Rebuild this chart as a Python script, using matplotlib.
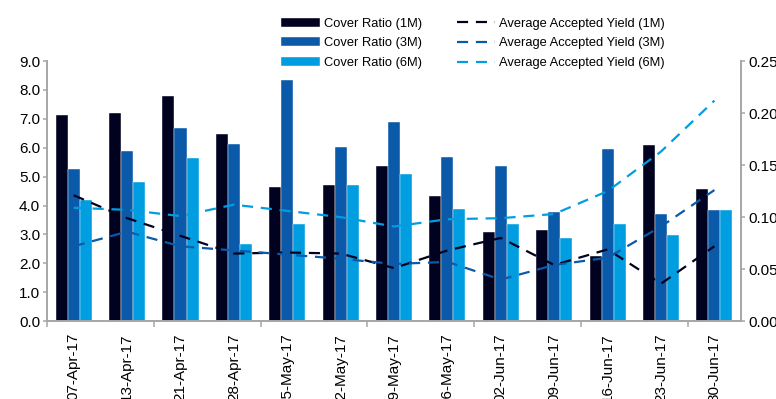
import numpy as np
import matplotlib
matplotlib.use("Agg")
import matplotlib.pyplot as plt

plt.rcParams['font.family'] = ['Liberation Sans', 'DejaVu Sans']

dates = ['07-Apr-17', '13-Apr-17', '21-Apr-17', '28-Apr-17', '05-May-17', '12-May-17',
         '19-May-17', '26-May-17', '02-Jun-17', '09-Jun-17', '16-Jun-17', '23-Jun-17',
         '30-Jun-17']

cover_1m = [7.15, 7.19, 7.79, 6.49, 4.63, 4.72, 5.38, 4.33, 3.07, 3.16, 2.25, 6.08, 4.59]
cover_3m = [5.28, 5.88, 6.68, 6.13, 8.34, 6.03, 6.88, 5.68, 5.38, 3.77, 5.94, 3.72, 3.84]
cover_6m = [4.18, 4.83, 5.64, 2.67, 3.37, 4.72, 5.08, 3.88, 3.37, 2.87, 3.37, 2.99, 3.84]

yield_1m = [0.121, 0.099, 0.082, 0.065, 0.066, 0.065, 0.051, 0.068, 0.080, 0.054, 0.069, 0.036, 0.072]
yield_3m = [0.072, 0.086, 0.072, 0.068, 0.064, 0.060, 0.055, 0.057, 0.040, 0.054, 0.061, 0.091, 0.126]
yield_6m = [0.109, 0.107, 0.101, 0.112, 0.106, 0.100, 0.091, 0.098, 0.099, 0.103, 0.125, 0.163, 0.212]

c1 = '#00021f'
c3 = '#0a5aa9'
c6 = '#009ee0'
grey = '#a6a6a6'

fig = plt.figure(figsize=(7.76, 3.99), dpi=100)
ax = fig.add_axes([0.0606, 0.195, 0.8944, 0.652])
ax2 = ax.twinx()

x = np.arange(len(dates))
w = 0.225
b1 = ax.bar(x - w, cover_1m, w, color=c1, edgecolor='white', linewidth=0.3, label='Cover Ratio (1M)')
b3 = ax.bar(x, cover_3m, w, color=c3, edgecolor='white', linewidth=0.3, label='Cover Ratio (3M)')
b6 = ax.bar(x + w, cover_6m, w, color=c6, edgecolor='white', linewidth=0.3, label='Cover Ratio (6M)')

dash = (5, 3.5)
l1, = ax2.plot(x, yield_1m, color=c1, lw=1.6, dashes=dash, label='Average Accepted Yield (1M)')
l3, = ax2.plot(x, yield_3m, color=c3, lw=1.6, dashes=dash, label='Average Accepted Yield (3M)')
l6, = ax2.plot(x, yield_6m, color=c6, lw=1.6, dashes=dash, label='Average Accepted Yield (6M)')

ax.set_xlim(-0.5, len(dates) - 0.5)
ax.set_ylim(0, 9)
ax.set_yticks(np.arange(0, 9.1, 1.0))
ax.set_yticklabels([f'{v:.1f}' for v in np.arange(0, 9.1, 1.0)])
ax2.set_ylim(0, 0.25)
ax2.set_yticks(np.arange(0, 0.251, 0.05))
ax2.set_yticklabels([f'{v:.2f}' for v in np.arange(0, 0.251, 0.05)])

# date labels at bar groups, short ticks every second group boundary
ax.set_xticks(x)
ax.set_xticklabels(dates, rotation=90, va='top', fontsize=11)
ax.tick_params(axis='x', which='major', length=0, pad=8.5)
ax.set_xticks(np.arange(-0.5, len(dates), 2), minor=True)
ax.tick_params(axis='x', which='minor', length=4, color=grey, width=1.1)

ax.tick_params(axis='y', labelsize=11, length=3, color=grey, width=1.1, pad=2)
ax2.tick_params(axis='y', labelsize=11, length=3, color=grey, width=1.1, pad=2)

for a in (ax, ax2):
    a.spines['top'].set_visible(False)
    for s in ('left', 'right', 'bottom'):
        a.spines[s].set_color(grey)
        a.spines[s].set_linewidth(1.2)

fig.legend([b1, b3, b6, l1, l3, l6],
           [h.get_label() for h in (b1, b3, b6, l1, l3, l6)],
           loc='upper left', bbox_to_anchor=(0.347, 0.985), ncol=2, frameon=False,
           fontsize=9.3, handlelength=3.0, handletextpad=0.3, columnspacing=2.7,
           labelspacing=0.6)

fig.savefig('out.png', dpi=100)
